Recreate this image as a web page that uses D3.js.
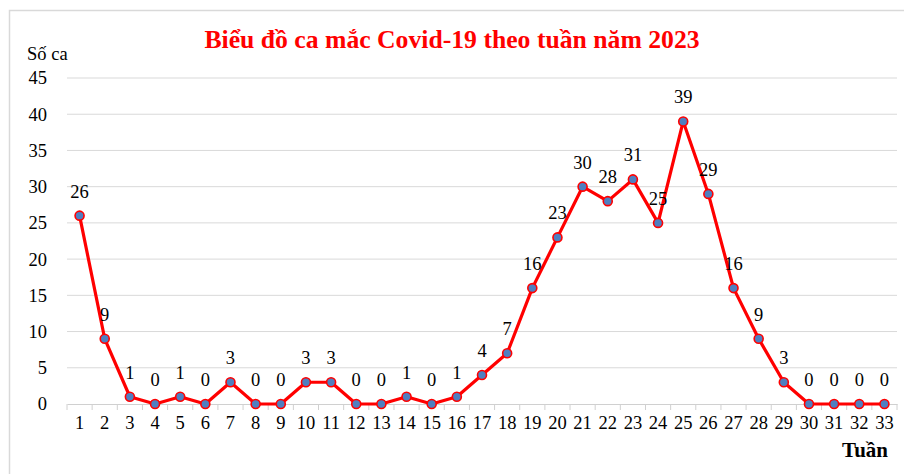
<!DOCTYPE html>
<html>
<head>
<meta charset="utf-8">
<script src="https://cdn.jsdelivr.net/npm/d3@7"></script>
<style>
  body { margin: 0; background: #fff; }
  svg text { font-family: "Liberation Serif", "Times New Roman", serif !important; }
</style>
</head>
<body>
<div id="chart"></div>
<script>
// weekly covid cases
const weeks = d3.range(1, 34);
const cases = [26, 9, 1, 0, 1, 0, 3, 0, 0, 3, 3, 0, 0, 1, 0, 1, 4, 7, 16, 23,
               30, 28, 31, 25, 39, 29, 16, 9, 3, 0, 0, 0, 0];
const yTicks = [0, 5, 10, 15, 20, 25, 30, 35, 40, 45];

const W = 904, H = 474;
const margin = {top: 78, right: 7, bottom: 70, left: 67};

const svg = d3.select("#chart")
  .append("svg")
    .attr("width", W)
    .attr("height", H);

// frame (top + left edge only, rest is cropped)
svg.append("path")
    .attr("d", `M9.5,${H} V10.5 H${W}`)
    .attr("fill", "none")
    .attr("stroke", "#d9d9d9")
    .attr("stroke-width", 1.5);

const x = d3.scaleBand()
    .domain(weeks)
    .range([margin.left, W - margin.right])
    .padding(0);

const y = d3.scaleLinear()
    .domain([0, 45])
    .range([H - margin.bottom, margin.top]);

const cx = d => x(d) + x.bandwidth() / 2;

// gridlines
svg.append("g")
  .selectAll("line")
  .data(yTicks.filter(t => t > 0))
  .enter().append("line")
    .attr("x1", margin.left)
    .attr("x2", W - margin.right)
    .attr("y1", d => y(d))
    .attr("y2", d => y(d))
    .attr("stroke", "#d9d9d9")
    .attr("stroke-width", 1);

// y axis labels
const yAxis = d3.axisLeft(y).tickValues(yTicks).tickSize(0).tickPadding(20);
const gy = svg.append("g")
    .attr("transform", `translate(${margin.left},0)`)
    .call(yAxis);
gy.select(".domain").remove();
gy.selectAll("text")
    .attr("font-size", 18.5)
    .attr("fill", "#000");

// x axis
const xAxis = d3.axisBottom(x).tickSize(0).tickPadding(12);
const gx = svg.append("g")
    .attr("transform", `translate(0,${y(0)})`)
    .call(xAxis);
gx.select(".domain").attr("stroke", "#d0d0d0").attr("stroke-width", 1.2);
gx.selectAll("text")
    .attr("font-size", 18.5)
    .attr("fill", "#000");

// tick marks at band edges
const edges = weeks.map(w => x(w)).concat([x(weeks[weeks.length - 1]) + x.bandwidth()]);
svg.append("g")
  .selectAll("line")
  .data(edges)
  .enter().append("line")
    .attr("x1", d => d)
    .attr("x2", d => d)
    .attr("y1", y(0))
    .attr("y2", y(0) + 6)
    .attr("stroke", "#d0d0d0")
    .attr("stroke-width", 1);

// line
const line = d3.line()
    .x((d, i) => cx(weeks[i]))
    .y(d => y(d));

svg.append("path")
    .datum(cases)
    .attr("d", line)
    .attr("fill", "none")
    .attr("stroke", "#ff0000")
    .attr("stroke-width", 3.2)
    .attr("stroke-linejoin", "round");

// markers
svg.append("g")
  .selectAll("circle")
  .data(cases)
  .enter().append("circle")
    .attr("cx", (d, i) => cx(weeks[i]))
    .attr("cy", d => y(d))
    .attr("r", 4.5)
    .attr("fill", "#4f7fc0")
    .attr("stroke", "#ff0000")
    .attr("stroke-width", 1.6);

// data labels
svg.append("g")
  .selectAll("text")
  .data(cases)
  .enter().append("text")
    .attr("x", (d, i) => cx(weeks[i]))
    .attr("y", d => y(d) - 18)
    .attr("text-anchor", "middle")
    .attr("font-size", 18.5)
    .attr("fill", "#000")
    .text(d => d);

// title
svg.append("text")
    .attr("x", 452)
    .attr("y", 48)
    .attr("text-anchor", "middle")
    .attr("font-size", 25.7)
    .attr("font-weight", "bold")
    .attr("fill", "#ff0000")
    .text("Biểu đồ ca mắc Covid-19 theo tuần năm 2023");

// axis titles
svg.append("text")
    .attr("x", 27)
    .attr("y", 60)
    .attr("font-size", 18.5)
    .attr("fill", "#000")
    .text("Số ca");

svg.append("text")
    .attr("x", 888)
    .attr("y", 457)
    .attr("text-anchor", "end")
    .attr("font-size", 21)
    .attr("font-weight", "bold")
    .attr("fill", "#000")
    .text("Tuần");
</script>
</body>
</html>
